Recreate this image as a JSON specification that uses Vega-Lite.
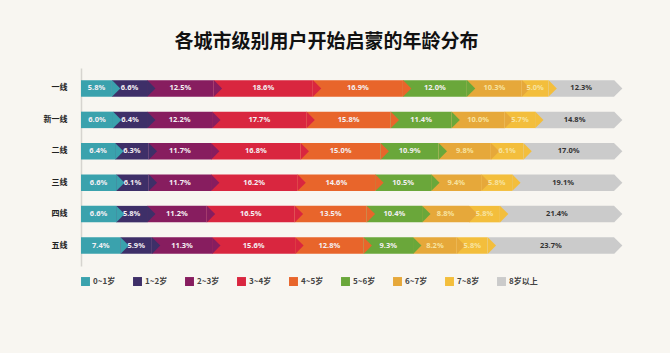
{
  "$schema": "https://vega.github.io/schema/vega-lite/v6.json",
  "width": 533,
  "height": 198,
  "autosize": {"type": "none"},
  "padding": {"left": 81, "top": 68, "right": 56, "bottom": 87},
  "background": "#f8f6f1",
  "title": {
    "text": "各城市级别用户开始启蒙的年龄分布",
    "font": "Noto Sans CJK SC",
    "fontSize": 19,
    "fontWeight": "bold",
    "color": "#111111",
    "anchor": "middle",
    "frame": "group",
    "dx": -21,
    "offset": 16
  },
  "config": {
    "view": {"stroke": null},
    "font": "Noto Sans CJK SC"
  },
  "data": {
    "values": [
      {"city": "一线", "age": "0~1岁", "o": 0, "value": 5.8},
      {"city": "一线", "age": "1~2岁", "o": 1, "value": 6.6},
      {"city": "一线", "age": "2~3岁", "o": 2, "value": 12.5},
      {"city": "一线", "age": "3~4岁", "o": 3, "value": 18.6},
      {"city": "一线", "age": "4~5岁", "o": 4, "value": 16.9},
      {"city": "一线", "age": "5~6岁", "o": 5, "value": 12.0},
      {"city": "一线", "age": "6~7岁", "o": 6, "value": 10.3},
      {"city": "一线", "age": "7~8岁", "o": 7, "value": 5.0},
      {"city": "一线", "age": "8岁以上", "o": 8, "value": 12.3},
      {"city": "新一线", "age": "0~1岁", "o": 0, "value": 6.0},
      {"city": "新一线", "age": "1~2岁", "o": 1, "value": 6.4},
      {"city": "新一线", "age": "2~3岁", "o": 2, "value": 12.2},
      {"city": "新一线", "age": "3~4岁", "o": 3, "value": 17.7},
      {"city": "新一线", "age": "4~5岁", "o": 4, "value": 15.8},
      {"city": "新一线", "age": "5~6岁", "o": 5, "value": 11.4},
      {"city": "新一线", "age": "6~7岁", "o": 6, "value": 10.0},
      {"city": "新一线", "age": "7~8岁", "o": 7, "value": 5.7},
      {"city": "新一线", "age": "8岁以上", "o": 8, "value": 14.8},
      {"city": "二线", "age": "0~1岁", "o": 0, "value": 6.4},
      {"city": "二线", "age": "1~2岁", "o": 1, "value": 6.3},
      {"city": "二线", "age": "2~3岁", "o": 2, "value": 11.7},
      {"city": "二线", "age": "3~4岁", "o": 3, "value": 16.8},
      {"city": "二线", "age": "4~5岁", "o": 4, "value": 15.0},
      {"city": "二线", "age": "5~6岁", "o": 5, "value": 10.9},
      {"city": "二线", "age": "6~7岁", "o": 6, "value": 9.8},
      {"city": "二线", "age": "7~8岁", "o": 7, "value": 6.1},
      {"city": "二线", "age": "8岁以上", "o": 8, "value": 17.0},
      {"city": "三线", "age": "0~1岁", "o": 0, "value": 6.6},
      {"city": "三线", "age": "1~2岁", "o": 1, "value": 6.1},
      {"city": "三线", "age": "2~3岁", "o": 2, "value": 11.7},
      {"city": "三线", "age": "3~4岁", "o": 3, "value": 16.2},
      {"city": "三线", "age": "4~5岁", "o": 4, "value": 14.6},
      {"city": "三线", "age": "5~6岁", "o": 5, "value": 10.5},
      {"city": "三线", "age": "6~7岁", "o": 6, "value": 9.4},
      {"city": "三线", "age": "7~8岁", "o": 7, "value": 5.8},
      {"city": "三线", "age": "8岁以上", "o": 8, "value": 19.1},
      {"city": "四线", "age": "0~1岁", "o": 0, "value": 6.6},
      {"city": "四线", "age": "1~2岁", "o": 1, "value": 5.8},
      {"city": "四线", "age": "2~3岁", "o": 2, "value": 11.2},
      {"city": "四线", "age": "3~4岁", "o": 3, "value": 16.5},
      {"city": "四线", "age": "4~5岁", "o": 4, "value": 13.5},
      {"city": "四线", "age": "5~6岁", "o": 5, "value": 10.4},
      {"city": "四线", "age": "6~7岁", "o": 6, "value": 8.8},
      {"city": "四线", "age": "7~8岁", "o": 7, "value": 5.8},
      {"city": "四线", "age": "8岁以上", "o": 8, "value": 21.4},
      {"city": "五线", "age": "0~1岁", "o": 0, "value": 7.4},
      {"city": "五线", "age": "1~2岁", "o": 1, "value": 5.9},
      {"city": "五线", "age": "2~3岁", "o": 2, "value": 11.3},
      {"city": "五线", "age": "3~4岁", "o": 3, "value": 15.6},
      {"city": "五线", "age": "4~5岁", "o": 4, "value": 12.8},
      {"city": "五线", "age": "5~6岁", "o": 5, "value": 9.3},
      {"city": "五线", "age": "6~7岁", "o": 6, "value": 8.2},
      {"city": "五线", "age": "7~8岁", "o": 7, "value": 5.8},
      {"city": "五线", "age": "8岁以上", "o": 8, "value": 23.7}
    ]
  },
  "transform": [
    {"stack": "value", "groupby": ["city"], "sort": [{"field": "o", "order": "ascending"}], "as": ["x0", "x1"]},
    {"calculate": "(datum.x0 + datum.x1) / 2", "as": "mid"},
    {"calculate": "format(datum.value, '.1f') + '%'", "as": "label"}
  ],
  "encoding": {
    "y": {
      "field": "city",
      "type": "nominal",
      "sort": ["一线", "新一线", "二线", "三线", "四线", "五线"],
      "scale": {"paddingInner": 0.475, "paddingOuter": 0.39},
      "axis": {
        "title": null,
        "ticks": false,
        "domainColor": "#d6d4cf",
        "domainWidth": 1.5,
        "labelFontSize": 8,
        "labelFontWeight": "bold",
        "labelColor": "#222222",
        "labelPadding": 14
      }
    }
  },
  "layer": [
    {
      "mark": {"type": "bar", "clip": false},
      "encoding": {
        "x": {"field": "x0", "type": "quantitative", "scale": {"domain": [0, 100], "nice": false}, "axis": null},
        "x2": {"field": "x1"},
        "color": {
          "field": "age",
          "type": "nominal",
          "sort": ["0~1岁", "1~2岁", "2~3岁", "3~4岁", "4~5岁", "5~6岁", "6~7岁", "7~8岁", "8岁以上"],
          "scale": {
            "domain": ["0~1岁", "1~2岁", "2~3岁", "3~4岁", "4~5岁", "5~6岁", "6~7岁", "7~8岁", "8岁以上"],
            "range": ["#3aa2ad", "#3e2f68", "#871d5f", "#d9263f", "#e8652b", "#6aa73a", "#e6a83a", "#f3be3c", "#cbcbcb"]
          },
          "legend": {
            "orient": "none",
            "legendX": 0,
            "legendY": 209,
            "direction": "horizontal",
            "columns": 9,
            "gridAlign": "all",
            "title": null,
            "symbolType": "square",
            "symbolSize": 80,
            "symbolStrokeWidth": 0,
            "labelFontSize": 8,
            "labelFontWeight": "bold",
            "labelColor": "#444444",
            "labelOffset": 3,
            "columnPadding": 11
          }
        }
      }
    },
    {
      "mark": {"type": "point", "shape": "M0,-1L1,0L0,1Z", "filled": true, "opacity": 1, "size": 280, "clip": false},
      "encoding": {
        "x": {"field": "x1", "type": "quantitative"},
        "color": {"field": "age", "type": "nominal"}
      }
    },
    {
      "mark": {"type": "text", "fontSize": 7.5, "fontWeight": "bold", "font": "Noto Sans"},
      "encoding": {
        "x": {"field": "mid", "type": "quantitative"},
        "text": {"field": "label"},
        "color": {
          "condition": [
            {"test": "datum.o == 8", "value": "#333333"},
            {"test": "datum.o == 6 || datum.o == 7", "value": "#f7e3a0"}
          ],
          "value": "#f4f0f4"
        }
      }
    }
  ]
}
